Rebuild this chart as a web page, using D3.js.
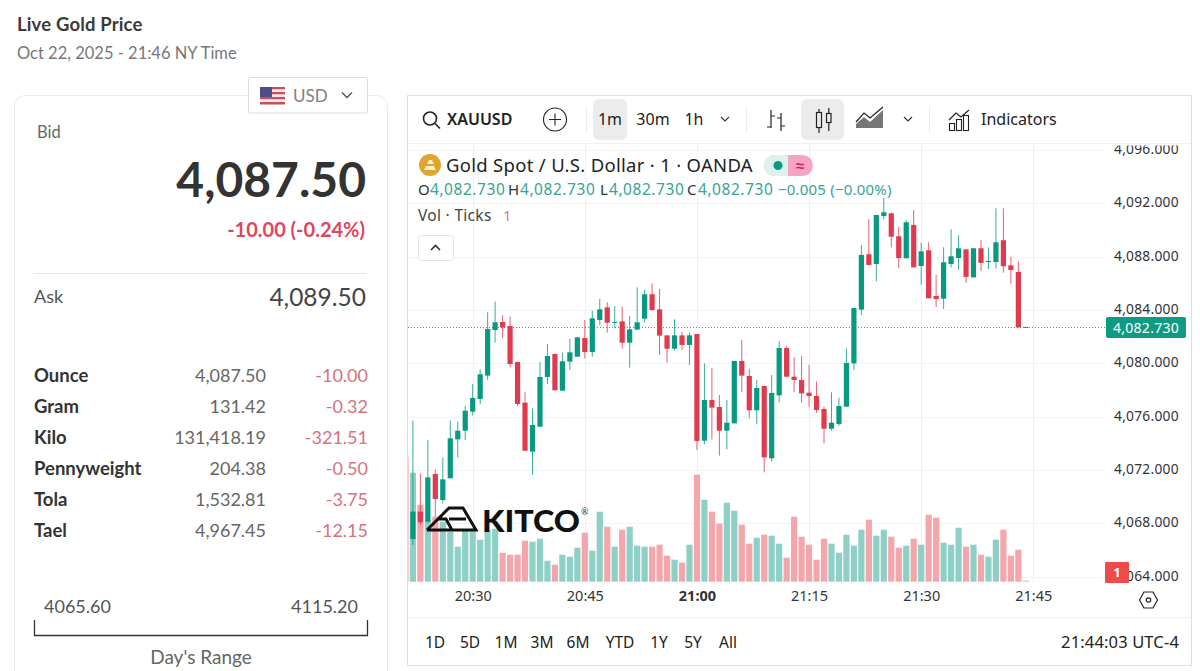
<!DOCTYPE html>
<html>
<head>
<meta charset="utf-8">
<script src="https://cdn.jsdelivr.net/npm/d3@7"></script>
<style>
html,body{margin:0;padding:0;background:#fff;overflow:hidden}
svg{display:block}
</style>
</head>
<body>
<svg id="page" width="1200" height="671"></svg>
<script>
// minute candles from 20:21 to 21:44
var opens = [4070.40,4066.83,4068.88,4068.13,4071.70,4069.75,4071.38,4074.30,4074.95,4076.38,4077.33,4079.08,4082.50,4083.10,4082.80,4080.10,4077.05,4073.38,4075.25,4078.98,4080.70,4077.95,4080.13,4080.50,4081.90,4080.85,4083.25,4084.20,4083.03,4083.15,4081.55,4082.53,4083.35,4085.18,4084.05,4082.10,4081.10,4082.10,4081.38,4082.20,4074.20,4077.25,4076.73,4074.95,4075.50,4080.18,4079.05,4076.48,4078.30,4072.88,4077.60,4081.15,4079.00,4078.75,4077.80,4077.55,4076.58,4075.10,4075.45,4076.75,4080.00,4084.03,4088.18,4087.45,4091.05,4091.25,4089.53,4087.88,4090.38,4087.30,4088.48,4085.05,4084.85,4087.45,4087.90,4088.55,4086.45,4088.63,4087.60,4087.60,4089.23,4087.35,4086.85,4082.73];
var highs = [4074.00,4075.70,4071.75,4074.25,4072.05,4072.93,4075.70,4075.63,4076.80,4078.45,4079.55,4083.83,4084.63,4083.60,4083.50,4080.13,4077.83,4076.63,4080.10,4081.45,4080.75,4080.80,4081.83,4081.98,4083.25,4083.95,4084.83,4084.58,4084.30,4084.25,4083.55,4085.70,4085.50,4086.00,4085.58,4082.10,4083.30,4082.38,4082.30,4082.20,4080.00,4079.63,4077.63,4077.25,4080.18,4081.75,4079.58,4078.75,4078.30,4079.13,4081.68,4081.30,4080.45,4080.55,4079.88,4078.63,4076.75,4077.83,4077.43,4081.13,4084.15,4088.88,4090.80,4091.13,4092.40,4091.30,4090.25,4090.75,4091.50,4089.05,4089.08,4086.63,4088.70,4090.05,4089.60,4088.55,4088.63,4089.25,4088.70,4091.63,4091.63,4088.00,4087.63,4082.73];
var lows = [4066.90,4066.38,4067.88,4068.00,4068.50,4069.50,4071.38,4072.95,4074.25,4076.08,4076.93,4078.75,4081.55,4081.88,4079.70,4076.80,4073.45,4071.63,4075.25,4078.45,4077.98,4077.95,4079.50,4080.50,4080.35,4080.50,4082.88,4082.30,4082.63,4081.10,4079.68,4082.53,4083.05,4083.95,4080.63,4080.05,4080.95,4081.00,4079.88,4073.50,4073.95,4074.30,4073.08,4073.55,4075.50,4077.83,4075.88,4075.43,4071.83,4072.63,4077.08,4078.95,4077.85,4077.05,4076.75,4076.30,4074.00,4074.95,4075.30,4076.75,4079.50,4083.63,4087.38,4086.15,4090.80,4088.70,4087.13,4087.88,4087.20,4085.90,4084.88,4084.23,4084.08,4087.20,4087.00,4086.03,4086.45,4086.93,4087.08,4087.10,4086.80,4085.93,4082.70,4082.73];
var closes = [4068.90,4068.88,4068.08,4071.45,4069.83,4071.30,4074.38,4074.95,4076.45,4077.40,4079.18,4082.58,4083.08,4082.70,4079.95,4076.95,4073.45,4075.38,4078.98,4080.55,4077.98,4080.15,4080.83,4081.95,4080.85,4083.38,4084.05,4083.05,4083.10,4081.55,4082.55,4083.08,4085.18,4084.00,4082.08,4081.10,4082.10,4081.38,4082.10,4074.18,4077.25,4076.68,4074.95,4075.55,4080.18,4079.08,4076.48,4078.15,4072.95,4077.78,4081.15,4079.00,4078.75,4077.75,4077.55,4076.50,4075.10,4075.55,4076.80,4080.03,4084.15,4088.13,4087.38,4091.13,4091.33,4089.50,4087.90,4090.58,4087.20,4088.40,4084.88,4084.83,4087.58,4088.03,4088.63,4086.48,4088.63,4087.53,4087.68,4089.08,4087.28,4087.00,4082.70,4082.73];
var volumes = [125,109,77,62,65,60,50,35,52,53,42,52,53,29,27,27,41,40,43,21,17,27,25,34,49,31,70,55,35,52,55,36,35,35,37,26,22,19,37,107,82,70,58,79,71,57,38,44,47,46,38,24,65,45,37,22,43,38,29,47,36,52,62,46,52,45,34,36,43,37,67,64,39,37,54,35,37,27,25,42,52,26,32,1];

var priceTicks = [4064,4068,4072,4076,4080,4084,4088,4092,4096];
var timeTicks = ["20:30","20:45","21:00","21:15","21:30","21:45"];
var lastPrice = 4082.73;
var rangeButtons = ["1D","5D","1M","3M","6M","YTD","1Y","5Y","All"];
var rangeX = [435,470,506,542,578,620,659,693,728];

var units = ["Ounce","Gram","Kilo","Pennyweight","Tola","Tael"];
var unitPrices = ["4,087.50","131.42","131,418.19","204.38","1,532.81","4,967.45"];
var unitChanges = ["-10.00","-0.32","-321.51","-0.50","-3.75","-12.15"];

var upColor = "#089981";
var downColor = "#e03a4f";
var chartFont = "'Noto Sans',sans-serif";
var sideFont = "Lato,sans-serif";

var svg = d3.select("#page");
svg.append("rect").attr("width",1200).attr("height",671).attr("fill","#fff");

var text = function(g,x,y,str,size,color,font,anchor,weight){
    return g.append("text")
        .attr("x",x).attr("y",y)
        .attr("font-family",font)
        .attr("font-size",size)
        .attr("fill",color)
        .attr("text-anchor",anchor||"start")
        .attr("font-weight",weight||400)
        .text(str);
}
var line = function(g,d,color,width){
    return g.append("path").attr("d",d).attr("fill","none")
        .attr("stroke",color).attr("stroke-width",width||1.3);
}

/* left card */
var side = svg.append("g");
text(side,17,31,"Live Gold Price",18.5,"#3a3a3a",sideFont,"start",700).attr("letter-spacing",0.15);
text(side,17,59,"Oct 22, 2025 - 21:46 NY Time",16.5,"#777",sideFont);
side.append("rect").attr("x",14.5).attr("y",95.5).attr("width",373).attr("height",620).attr("rx",11)
    .attr("fill","#fff").attr("stroke","#ebebeb");
side.append("rect").attr("x",248.5).attr("y",77.5).attr("width",119).attr("height",35.5).attr("rx",1)
    .attr("fill","#fff").attr("stroke","#dedede");
// flag
var stripes = d3.range(7);
side.selectAll("rect.stripe").data(stripes).enter().append("rect").attr("class","stripe")
    .attr("x",260).attr("width",25).attr("y",function(d){return 87+d*2.5}).attr("height",2.5)
    .attr("fill",function(d){return d%2==0 ? "#c8505c" : "#f2e6e8"});
side.append("rect").attr("x",260).attr("y",87).attr("width",12).attr("height",10).attr("fill","#4a4f86");
text(side,293,102,"USD",17,"#808080",sideFont);
line(side,"M342 92.5l5 5 5-5","#555",1.5);

text(side,37,138,"Bid",16.5,"#666",sideFont);
text(side,366,197,"4,087.50",48,"#333",sideFont,"end",700);
text(side,365,237,"-10.00 (-0.24%)",20,"#e0475c",sideFont,"end",700);
side.append("path").attr("d","M33 273.5H366").attr("stroke","#e6e6e6");
text(side,34,303,"Ask",18,"#555",sideFont);
text(side,366,306,"4,089.50",24.5,"#444",sideFont,"end");

var rows = side.selectAll("g.row").data(units).enter().append("g").attr("class","row")
    .attr("transform",function(d,i){return "translate(0,"+(382+i*31)+")"});
rows.append("text").attr("x",34).attr("font-family",sideFont).attr("font-size",18.5)
    .attr("font-weight",700).attr("fill","#333").text(function(d){return d});
rows.append("text").attr("x",266).attr("text-anchor","end").attr("font-family",sideFont).attr("font-size",18)
    .attr("fill","#666").text(function(d,i){return unitPrices[i]});
rows.append("text").attr("x",368).attr("text-anchor","end").attr("font-family",sideFont).attr("font-size",18)
    .attr("fill","#d9717f").text(function(d,i){return unitChanges[i]});

text(side,44,613,"4065.60",18,"#555",sideFont);
text(side,358,613,"4115.20",18,"#555",sideFont,"end");
line(side,"M34.5 620V635.5H367.5V620","#333",1.3);
text(side,201,664,"Day's Range",19,"#666",sideFont,"middle");

/* chart frame */
var chart = svg.append("g");
chart.append("rect").attr("x",407.5).attr("y",95.5).attr("width",784).attr("height",570)
    .attr("fill","#fff").attr("stroke","#dfdfdf");
chart.append("path").attr("d","M408 143.5H1191M408 617.5H1191").attr("stroke","#f0f0f0");

var x = d3.scaleTime()
    .domain([new Date(2025,9,22,20,30),new Date(2025,9,22,21,45)])
    .range([472.7,1033.3]);
var y = d3.scaleLinear().domain([4064,4096]).range([576.7,150]);
var volY = d3.scaleLinear().domain([0,125]).range([581.7,456.7]);

var timeOf = function(i){ return new Date(2025,9,22,20,21+i); }
var tickDates = timeTicks.map(function(t){
    var p = t.split(":");
    return new Date(2025,9,22,+p[0],+p[1]);
});

svg.append("defs").append("clipPath").attr("id","plot")
    .append("rect").attr("x",408).attr("y",144).attr("width",697).attr("height",438);
svg.select("defs").append("clipPath").attr("id","axisClip")
    .append("rect").attr("x",1105).attr("y",145.5).attr("width",85).attr("height",440);

var plot = chart.append("g").attr("clip-path","url(#plot)");

// grid
plot.selectAll("line.hgrid").data(priceTicks).enter().append("line").attr("class","hgrid")
    .attr("x1",408).attr("x2",1105)
    .attr("y1",function(d){return Math.round(y(d))+0.5}).attr("y2",function(d){return Math.round(y(d))+0.5})
    .attr("stroke","#f4f4f4");
plot.selectAll("line.vgrid").data(tickDates).enter().append("line").attr("class","vgrid")
    .attr("y1",144).attr("y2",582)
    .attr("x1",function(d){return Math.round(x(d))+0.5}).attr("x2",function(d){return Math.round(x(d))+0.5})
    .attr("stroke","#f1f1f1");

var candles = opens.map(function(o,i){
    return {t:timeOf(i),o:o,h:highs[i],l:lows[i],c:closes[i],v:volumes[i],up:closes[i]>=o};
});

// volume
plot.selectAll("rect.vol").data(candles).enter().append("rect").attr("class","vol")
    .attr("x",function(d){return x(d.t)-3.1})
    .attr("width",6.2)
    .attr("y",function(d){return volY(d.v)})
    .attr("height",function(d){return volY(0)-volY(d.v)})
    .attr("fill",function(d){return d.up ? "#8fd0c6" : "#f4a6aa"});

// last price line
plot.append("line").attr("x1",408).attr("x2",1105)
    .attr("y1",Math.round(y(lastPrice))+0.5).attr("y2",Math.round(y(lastPrice))+0.5)
    .attr("stroke","#5f8f88").attr("stroke-dasharray","1 2");

// candles
var candle = plot.selectAll("g.candle").data(candles).enter().append("g").attr("class","candle");
candle.append("line")
    .attr("x1",function(d){return x(d.t)}).attr("x2",function(d){return x(d.t)})
    .attr("y1",function(d){return y(d.h)}).attr("y2",function(d){return y(d.l)})
    .attr("stroke",function(d){return d.up ? upColor : downColor}).attr("stroke-width",1).attr("opacity",0.8);
candle.append("rect")
    .attr("x",function(d){return x(d.t)-2.6})
    .attr("width",5.2)
    .attr("y",function(d){return y(Math.max(d.o,d.c))})
    .attr("height",function(d){return Math.max(1,Math.abs(y(d.o)-y(d.c)))})
    .attr("fill",function(d){return d.up ? upColor : downColor});

// kitco mark
var logo = chart.append("g");
line(logo,"M427 530L438 519H446L452 530H427M438 519L449 508H463L476 530H452M449 519H466","#111",3);
text(logo,482,532,"KITCO",30,"#111",sideFont,"start",900).attr("textLength",98).attr("lengthAdjust","spacingAndGlyphs");
text(logo,581,515,"®",9,"#333",sideFont);

// axes
var yAxis = d3.axisRight(y).tickValues(priceTicks).tickSize(0).tickPadding(0)
    .tickFormat(function(d){return d3.format(",.3f")(d)});
var yG = chart.append("g").attr("clip-path","url(#axisClip)").append("g")
    .attr("transform","translate(1114,-1)").call(yAxis);
yG.select(".domain").remove();
yG.selectAll("text").attr("font-family",chartFont).attr("font-size",13.8).attr("fill","#333").attr("letter-spacing",0.25);

var xAxis = d3.axisBottom(x).tickValues(tickDates).tickSize(0).tickPadding(0)
    .tickFormat(d3.timeFormat("%H:%M"));
var xG = chart.append("g").attr("transform","translate(0,591)").call(xAxis);
xG.select(".domain").remove();
xG.selectAll("text").attr("font-family",chartFont).attr("font-size",14.5).attr("fill","#333")
    .attr("font-weight",function(d){return d.getHours()==21&&d.getMinutes()==0 ? 700 : 400});

// price and countdown labels
chart.append("rect").attr("x",1106).attr("y",317).attr("width",80).attr("height",21).attr("rx",2).attr("fill","#0f9b83");
text(chart,1146,332.5,d3.format(",.3f")(lastPrice),14,"#fff",chartFont,"middle").attr("letter-spacing",0.25);
chart.append("rect").attr("x",1105).attr("y",562).attr("width",24).attr("height",21).attr("rx",1).attr("fill","#ef4b4b");
text(chart,1117,577,"1",13,"#fff",chartFont,"middle",700);

// settings hexagon
line(chart,"M1139.5 600l4.5-8h9l4.5 8-4.5 8h-9z","#222",1.2);
chart.append("circle").attr("cx",1148.5).attr("cy",600).attr("r",2.2).attr("fill","none").attr("stroke","#222").attr("stroke-width",1.2);

/* toolbar */
var bar = chart.append("g");
bar.append("rect").attr("x",593).attr("y",99).attr("width",34).attr("height",41).attr("rx",6).attr("fill","#ececec");
bar.append("rect").attr("x",801).attr("y",99).attr("width",43).attr("height",41).attr("rx",6).attr("fill","#ececec");
bar.append("path").attr("d","M586.5 106V133M746.5 106V133M929.5 106V133").attr("stroke","#ececec");
bar.append("circle").attr("cx",430).attr("cy",118.5).attr("r",6.5).attr("fill","none").attr("stroke","#222").attr("stroke-width",1.6);
line(bar,"M435 123.5l5 5","#222",1.6);
text(bar,447,125,"XAUUSD",16,"#222",chartFont,"start",600);
bar.append("circle").attr("cx",555).attr("cy",119.5).attr("r",11.5).attr("fill","none").attr("stroke","#222").attr("stroke-width",1.1);
line(bar,"M549 119.5H561M555 113.5V125.5","#222",1.1);
text(bar,610,125,"1m",16,"#222",chartFont,"middle");
text(bar,653,125,"30m",16,"#222",chartFont,"middle");
text(bar,694,125,"1h",16,"#222",chartFont,"middle");
line(bar,"M721 117l4 4 4-4","#333",1.1);
line(bar,"M771 110V128M767 127H771M771 116H775M781 113V131M781 118H777M781 126H785","#222",1.2);
bar.append("rect").attr("x",816.5).attr("y",112.5).attr("width",5).attr("height",15).attr("fill","none").attr("stroke","#222").attr("stroke-width",1.2);
bar.append("rect").attr("x",826.5).attr("y",113.5).attr("width",4.5).attr("height",9).attr("fill","none").attr("stroke","#222").attr("stroke-width",1.2);
line(bar,"M819 109V112.5M819 127.5V133M828.8 108V113.5M828.8 122.5V131","#222",1.2);
bar.append("path").attr("d","M856 128V124L864 117L870 122L883 110V128Z").attr("fill","#777");
line(bar,"M856 122L864 113L870 118L883 107","#222",1.2);
line(bar,"M904 117l4 4 4-4","#333",1.1);
line(bar,"M949 120L956 113L961 117L969 110","#222",1.2);
bar.append("rect").attr("x",949.5).attr("y",123.5).attr("width",5).attr("height",7).attr("fill","none").attr("stroke","#222").attr("stroke-width",1.1);
bar.append("rect").attr("x",956.5).attr("y",119.5).attr("width",5).attr("height",11).attr("fill","none").attr("stroke","#222").attr("stroke-width",1.1);
bar.append("rect").attr("x",963.5).attr("y",115.5).attr("width",5).attr("height",15).attr("fill","none").attr("stroke","#222").attr("stroke-width",1.1);
text(bar,981,125,"Indicators",16,"#222",chartFont);

/* legend */
var legend = chart.append("g");
legend.append("circle").attr("cx",430).attr("cy",165).attr("r",11).attr("fill","#dfa52f");
legend.append("path").attr("d","M424 170l2-4h8l2 4zM427 164l2-4h3l2 4z").attr("fill","#fff3cf");
text(legend,446,172,"Gold Spot / U.S. Dollar · 1 · OANDA",18.5,"#222",chartFont).attr("letter-spacing",0.3);
legend.append("rect").attr("x",764).attr("y",155).attr("width",49).attr("height",21).attr("rx",10.5).attr("fill","#f5a5c3");
legend.append("path").attr("d","M788 155H774.5A10.5 10.5 0 0 0 774.5 176H788Z").attr("fill","#dcf2ee");
legend.append("circle").attr("cx",778).attr("cy",165.5).attr("r",4.5).attr("fill","#089981");
text(legend,800,171,"≈",15,"#d81b60",chartFont,"middle",700);

var ohlcLabels = ["O","H","L","C"];
var ohlcX = [418,508,600,687];
var ohlcValueX = [430,520,609,698];
ohlcLabels.forEach(function(k,i){
    text(legend,ohlcX[i],195,k,15,"#333",chartFont);
    text(legend,ohlcValueX[i],195,d3.format(",.3f")(lastPrice),15.5,"#35a594",chartFont).attr("letter-spacing",0.55);
});
text(legend,778,195,"−0.005 (−0.00%)",15,"#35a594",chartFont).attr("letter-spacing",0.2);
text(legend,418,221,"Vol · Ticks",15.5,"#444",chartFont).attr("letter-spacing",0.3);
text(legend,503,221,"1",15,"#e57b7b",chartFont);
legend.append("rect").attr("x",418.5).attr("y",235.5).attr("width",35).attr("height",25).attr("rx",3)
    .attr("fill","#fff").attr("stroke","#e3e3e3");
line(legend,"M431 250l4.5-4.5 4.5 4.5","#333",1.6);

/* bottom bar */
var bottom = chart.append("g");
bottom.selectAll("text").data(rangeButtons).enter().append("text")
    .attr("x",function(d,i){return rangeX[i]}).attr("y",648)
    .attr("text-anchor","middle").attr("font-family",chartFont).attr("font-size",15.5).attr("fill","#222")
    .text(function(d){return d});
text(bottom,1179,648,"21:44:03 UTC-4",16.5,"#222",chartFont,"end").attr("letter-spacing",0.15);
</script>
</body>
</html>
